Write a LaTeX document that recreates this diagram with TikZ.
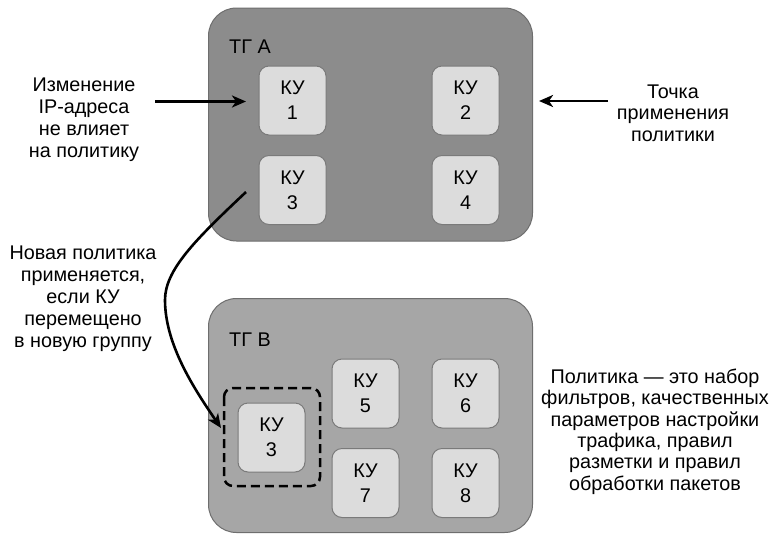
\documentclass[tikz,border=0pt]{standalone}
\usepackage{fontspec}
\setmainfont{Liberation Sans}
\usetikzlibrary{arrows.meta}
\definecolor{grpA}{HTML}{8C8C8C}
\definecolor{grpB}{HTML}{A6A6A6}
\definecolor{grpEdge}{HTML}{6E6E6E}
\definecolor{kuFill}{HTML}{DCDCDC}
\definecolor{kuEdge}{HTML}{7A7A7A}
\begin{document}
\begin{tikzpicture}[x=1pt,y=-1pt,
  group/.style={draw=grpEdge,line width=1pt,rounded corners=28pt,minimum width=324pt,anchor=north west,inner sep=0pt},
  ku/.style={draw=kuEdge,fill=kuFill,line width=1pt,rounded corners=10pt,minimum width=67pt,minimum height=69pt,inner sep=0pt,
    align=center,font=\fontsize{19.8}{25}\selectfont},
  grplabel/.style={anchor=west,inner sep=0pt,font=\fontsize{19.8}{22}\selectfont},
  note/.style={align=center,inner sep=0pt,font=\fontsize{19.8}{22}\selectfont},
  arr/.style={line width=2.6pt,-{Stealth[length=14pt,width=12pt,inset=4pt]}}]
\useasboundingbox (0,0) rectangle (776,533);
\fill[white] (0,0) rectangle (776,533);

% traffic groups
\node[group,fill=grpA,minimum height=233pt] (tga) at (208,7.5) {};
\node[group,fill=grpB,minimum height=234pt] (tgb) at (208,298) {};
\node[grplabel] (la) at (229,47) {ТГ А};
\node[grplabel] (lb) at (229,340) {ТГ В};

% endpoints of group A
\node[ku] (k1) at (292.5,100.5) {КУ\\1};
\node[ku] (k2) at (465.5,100.5) {КУ\\2};
\node[ku] (k3) at (292.5,190) {КУ\\3};
\node[ku] (k4) at (465.5,190) {КУ\\4};

% endpoints of group B
\node[ku] (k3b) at (271.5,437.5) {КУ\\3};
\node[ku] (k5) at (365.5,393.5) {КУ\\5};
\node[ku] (k6) at (465.5,393.5) {КУ\\6};
\node[ku] (k7) at (365.5,483) {КУ\\7};
\node[ku] (k8) at (465.5,483) {КУ\\8};
\draw[line width=2.5pt,dash pattern=on 9pt off 5pt,rounded corners=9pt] (224,388) rectangle (320,486);
\coordinate (moveIn) at (221,428);

% annotations
\node[note] (tip1) at (84,120) {Изменение\\IP-адреса\\не влияет\\на политику};
\node[note,font=\fontsize{19.8}{21.4}\selectfont] (tip2) at (673,113) {Точка\\применения\\политики};
\node[note] (tip3) at (83,299) {Новая политика\\применяется,\\если КУ\\перемещено\\в новую группу};
\node[note,font=\fontsize{19.8}{21.4}\selectfont] (tip4) at (655,431.5) {Политика — это набор\\фильтров, качественных\\параметров настройки\\трафика, правил\\разметки и правил\\обработки пакетов};

% connectors
\coordinate (a1s) at (155,101.5);
\coordinate (a1e) at (246,101.5);
\coordinate (a2s) at (608,101);
\coordinate (a2e) at (539,101);
\coordinate (moveOut) at (246,192);
\draw[arr] (a1s) -- (a1e);
\draw[arr] (a2s) -- (a2e);
\draw[arr] (moveOut) .. controls (195,240) and (165,270) .. (165,300)
  .. controls (165,345) and (195,390) .. (moveIn);
\end{tikzpicture}
\end{document}
